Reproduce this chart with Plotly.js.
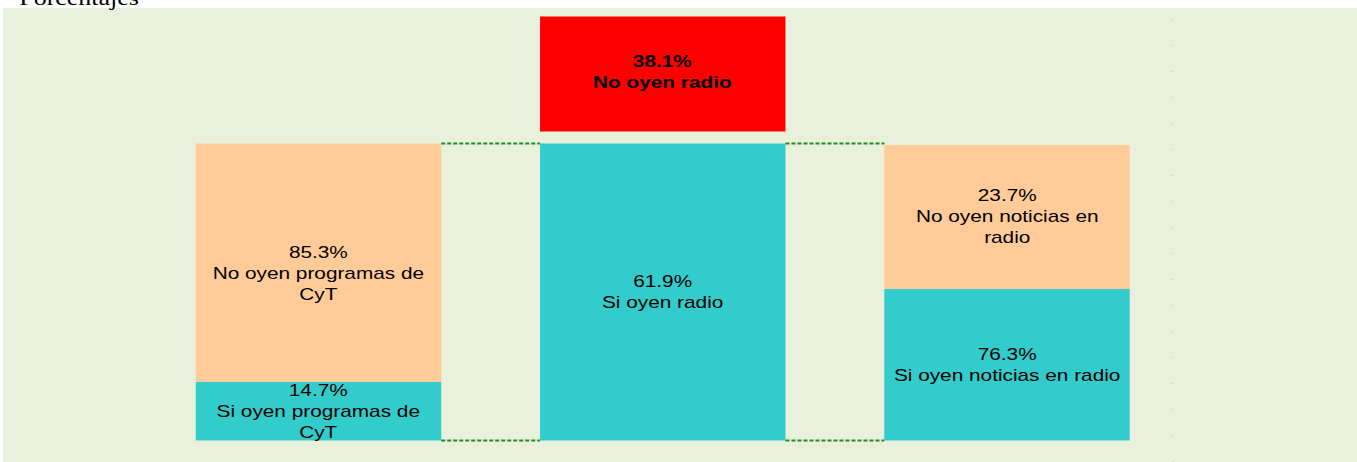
<!DOCTYPE html>
<html>
<head>
<meta charset="utf-8">
<script src="https://cdn.plot.ly/plotly-3.0.1.min.js"></script>
<style>
html,body{margin:0;padding:0;background:#fff;}
#chart{width:1357px;height:462px;}
#chart .annotation-text{transform-box:fill-box;transform-origin:center;transform:scaleX(1.3);}
</style>
</head>
<body>
<div id="chart"></div>
<script>
// Bar positions (category index) for the three columns
const columns = [0, 1, 2];

// Percentages shown in the labels
const siPct = [14.7, 61.9, 76.3];
const noPct = [23.7];            // right column "no" (news)
const noCytPct = 85.3;           // left column "no" (CyT)
const noRadioPct = 38.1;         // middle column "no" (radio)

// Drawn segment heights (axis units, left column total = 100)
const siHeights = [19.7, 100, 51.0];
const noHeightsCols = [0, 2];
const noHeights = [80.3, 48.5];
const noRadioBase = 104.0;
const noRadioHeight = 38.7;

// Label texts
const siLabels = ["Si oyen programas de<br>CyT", "Si oyen radio", "Si oyen noticias en radio"];
const noLabels = ["No oyen programas de<br>CyT", "No oyen noticias en<br>radio"];
const noLabelPct = [noCytPct, noPct[0]];
const redLabel = "No oyen radio";

const colCyan = "#33CCCC", colPeach = "#FFCC99", colRed = "#FF0000";
const barW = 0.713;

const traces = [
  {type: "bar", x: columns, y: siHeights, base: [0, 0, 0], width: barW,
   marker: {color: colCyan, line: {width: 0}}, hoverinfo: "skip"},
  {type: "bar", x: noHeightsCols, y: noHeights,
   base: noHeightsCols.map(c => siHeights[c]), width: barW,
   marker: {color: colPeach, line: {width: 0}}, hoverinfo: "skip"},
  {type: "bar", x: [1], y: [noRadioHeight], base: [noRadioBase], width: barW,
   marker: {color: colRed, line: {width: 0}}, hoverinfo: "skip"}
];

// dotted connectors between columns (top and bottom edges of the middle bar)
const topY = siHeights[1];
[[0, 1], [1, 2]].forEach(([a, b]) => {
  [0, topY].forEach(yv => {
    traces.push({type: "scatter", mode: "lines",
      x: [a + barW / 2, b - barW / 2], y: [yv, yv],
      line: {color: "#1E8C1E", width: 2, dash: "4px,2px"}, hoverinfo: "skip"});
  });
});

const fontTxt = {family: "Liberation Sans, Arial, sans-serif", size: 16, color: "#000"};
const annotations = [];
columns.forEach((c, i) => {
  annotations.push({x: c, y: siHeights[i] / 2, xref: "x", yref: "y", showarrow: false,
    text: siPct[i].toFixed(1) + "%<br>" + siLabels[i], font: fontTxt, align: "center"});
});
noHeightsCols.forEach((c, i) => {
  annotations.push({x: c, y: siHeights[c] + noHeights[i] / 2, xref: "x", yref: "y", showarrow: false,
    yshift: c === 0 ? -11 : 0,
    text: noLabelPct[i].toFixed(1) + "%<br>" + noLabels[i], font: fontTxt, align: "center"});
});
annotations.push({x: 1, y: noRadioBase + noRadioHeight / 2, xref: "x", yref: "y", showarrow: false,
  yshift: 2,
  text: "<b>" + noRadioPct.toFixed(1) + "%</b><br><b>" + redLabel + "</b>", font: fontTxt, align: "center"});
annotations.push({x: 0, y: 1, xref: "paper", yref: "paper", xanchor: "left", yanchor: "bottom",
  xshift: 28, yshift: -4, showarrow: false, text: "Porcentajes",
  font: {family: "Liberation Serif, Times New Roman, serif", size: 20, color: "#000"}});

const layout = {
  width: 1357, height: 462,
  margin: {l: 3, r: 0, t: 8, b: 0, pad: 0},
  paper_bgcolor: "#FFFFFF", plot_bgcolor: "#E9F0DC",
  barmode: "overlay", showlegend: false,
  xaxis: {range: [-0.9165, 3.0167], showgrid: false, zeroline: false, showticklabels: false, ticks: "", fixedrange: true},
  yaxis: {range: [-7.24, 145.6], showgrid: false, zeroline: false, showticklabels: false, ticks: "", fixedrange: true},
  shapes: [{type: "line", xref: "x", yref: "paper", x0: 2.482, x1: 2.482, y0: 0, y1: 1,
    line: {color: "#B8C2D4", width: 1, dash: "1px,25px"}}],
  annotations: annotations
};

Plotly.newPlot("chart", traces, layout, {displayModeBar: false, staticPlot: true});
</script>
</body>
</html>
